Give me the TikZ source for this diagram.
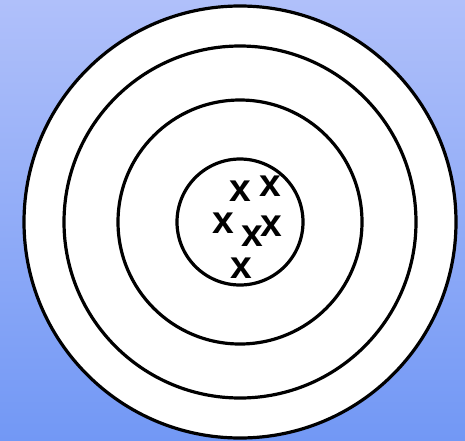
\documentclass[tikz,border=0pt]{standalone}
\usepackage{fontspec}
\setmainfont{Liberation Sans}
\definecolor{bgtop}{RGB}{176,192,250}
\definecolor{bgbot}{RGB}{114,152,245}
\begin{document}
\begin{tikzpicture}[x=1pt,y=-1pt,
  ring/.style={draw=black,line width=3.2pt,fill=white},
  mark x/.style={inner sep=0pt,font=\fontsize{39}{39}\selectfont\bfseries}]
\shade[top color=bgtop,bottom color=bgbot,shading angle=0] (0,0) rectangle (465,440);
\useasboundingbox (0,0) rectangle (465,440);
\coordinate (c) at (240,222);
\draw[ring] (c) circle[radius=216];
\draw[ring] (c) circle[radius=176];
\draw[ring] (c) circle[radius=122];
\draw[ring] (c) circle[radius=63];
\node[mark x] (x1) at (240.7,191.5) {x};
\node[mark x] (x2) at (270,186.5) {x};
\node[mark x] (x3) at (223,223) {x};
\node[mark x] (x4) at (252,236.5) {x};
\node[mark x] (x5) at (271.7,226.5) {x};
\node[mark x] (x6) at (241.7,268) {x};
\end{tikzpicture}
\end{document}
